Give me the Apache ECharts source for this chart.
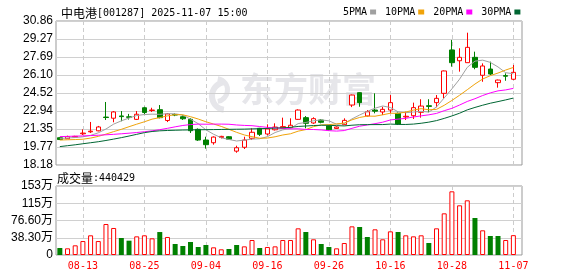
<!DOCTYPE html>
<html><head><meta charset="utf-8">
<script src="https://cdn.jsdelivr.net/npm/echarts@6/dist/echarts.min.js"></script>
<style>html,body{margin:0;padding:0;background:#fff}#c{width:578px;height:276px}</style>
</head><body><div id="c"></div><script>
const dates = ['08-08','08-11','08-12','08-13','08-14','08-15','08-18','08-19','08-20','08-21','08-22',
'08-25','08-26','08-27','08-28','08-29','09-01','09-02','09-03','09-04','09-05','09-08','09-09','09-10',
'09-11','09-12','09-15','09-16','09-17','09-18','09-19','09-22','09-23','09-24','09-25','09-26','09-29',
'09-30','10-09','10-10','10-13','10-14','10-15','10-16','10-17','10-20','10-21','10-22','10-23','10-24',
'10-27','10-28','10-29','10-30','10-31','11-03','11-04','11-05','11-06','11-07'];
const tickLabels = ['08-13','08-25','09-04','09-16','09-26','10-16','10-28','11-07'];
const priceTicks = [18.18, 19.77, 21.35, 22.94, 24.52, 26.10, 27.69, 29.27, 30.86];
const open  = [20.58,20.49,20.64,20.93,21.10,21.19,22.40,22.30,22.50,22.42,22.20,23.22,22.98,23.05,22.10,22.62,22.43,22.20,21.32,20.38,
20.14,20.60,20.67,19.40,19.74,20.53,21.41,20.91,21.28,21.45,21.46,22.20,22.35,21.88,22.14,21.62,21.40,21.73,23.46,24.55,
22.50,23.02,22.85,23.02,22.73,22.41,22.52,22.82,23.40,23.67,24.49,28.31,27.36,27.19,27.66,26.08,26.63,25.43,26.05,25.73];
const close = [20.42,20.68,20.70,20.99,21.16,21.53,22.36,22.85,22.44,22.38,22.65,22.80,23.02,22.35,22.68,22.58,22.25,21.20,20.38,19.97,
20.64,20.70,20.45,19.70,20.38,21.06,20.88,21.35,21.52,21.56,21.68,23.02,21.85,22.26,21.94,21.28,21.52,22.11,24.34,23.67,
22.87,22.92,23.08,23.67,21.79,22.47,23.23,23.37,23.34,24.05,26.46,27.19,27.66,28.54,26.78,26.90,26.19,25.66,26.00,26.34];
const low   = [20.40,20.47,20.58,20.82,21.00,21.15,22.14,21.94,22.03,22.18,22.14,22.67,22.85,22.29,21.96,22.48,22.15,21.00,20.30,19.62,
19.97,20.52,20.40,19.26,19.59,20.38,20.73,20.79,21.22,21.42,21.40,22.15,21.41,21.80,21.85,21.22,21.36,21.70,23.28,23.31,
22.45,22.73,22.58,22.73,21.70,22.14,22.23,22.35,22.82,23.26,24.05,26.84,26.40,27.19,26.61,25.51,26.10,24.99,25.60,25.66];
const high  = [20.62,20.76,20.75,21.32,21.97,21.62,23.73,22.93,22.93,22.68,22.93,23.31,23.22,23.46,22.75,22.73,22.55,22.30,21.40,20.67,
20.70,20.75,20.72,19.88,20.67,21.41,21.45,21.76,21.85,22.35,22.29,23.08,22.49,22.38,22.22,21.66,21.58,22.29,24.38,24.58,
23.02,24.49,23.31,24.34,22.80,22.87,23.67,23.97,23.97,24.34,26.50,29.19,28.46,29.83,28.16,27.13,27.28,25.70,26.25,26.99];
const volume = [155000,148000,215000,310000,437000,310000,688000,600000,377000,318000,414000,437000,370000,510000,400000,244000,200000,289000,178000,222000,
170000,126000,133000,222000,192000,333000,155000,178000,192000,333000,333000,592000,511000,348000,244000,178000,148000,266000,636000,622000,
400000,570000,348000,525000,511000,437000,414000,437000,266000,592000,925000,1414000,1103000,1214000,822000,548000,422000,422000,333000,440429];
// MA values before enough visible history exists
const ma5Early  = [20.52,20.56,20.60,20.66];
const ma10Early = [20.38,20.40,20.42,20.45,20.55,20.70,20.90,21.12,21.32];
const ma20Early = [20.68,20.70,20.72,20.74,20.77,20.80,20.84,20.88,20.93,20.98,21.04,21.11,21.19,21.29,21.41,21.54,21.66,21.74,21.78];
const ma30Early = [19.80,19.88,19.96,20.05,20.14,20.23,20.34,20.46,20.59,20.73,20.88,21.03,21.13,21.19,21.22,21.24,21.26,21.27,21.28,21.29,
21.30,21.31,21.32,21.33,21.34,21.36,21.38,21.40,21.43];
const maNames = ['5PMA','10PMA','20PMA','30PMA'];

function ma(n, early) {
  return close.map((c, i) => {
    if (i < n - 1) return [i, early[i]];
    let s = 0; for (let k = i - n + 1; k <= i; k++) s += close[k];
    return [i, +(s / n).toFixed(3)];
  });
}
const RED = '#ff0000', GREEN = '#008000';
const candleData = close.map((c, i) => [i, open[i], c, low[i], high[i]]);
const volData = volume.map((v, i) => {
  const up = i === 0 ? close[i] >= open[i] : close[i] >= close[i - 1];
  return { value: [i, v], itemStyle: up ? { color: '#fff', borderColor: RED, borderWidth: 1 } : { color: GREEN, borderColor: GREEN, borderWidth: 0 } };
});
const tickIdx = tickLabels.map(l => dates.indexOf(l));
const xMin = -0.5, xMax = 60.12;
const mono = "'DejaVu Sans Mono', monospace";
const cjk = "'Noto Sans CJK SC', sans-serif";

function fmtVol(v) {
  if (v === 0) return '0';
  const w = v / 10000;
  return (w >= 100 ? Math.round(w) : w.toFixed(2)) + '万';
}

const chart = echarts.init(document.getElementById('c'), null, { renderer: 'canvas' });
const lineColors = ['#a0a0a0', '#f0a30a', '#ff00ff', '#006633'];
const maSeries = [ma(5, ma5Early), ma(10, ma10Early), ma(20, ma20Early), ma(30, ma30Early)].map((d, k) => ({
  name: maNames[k], type: 'line', xAxisIndex: 0, yAxisIndex: 0, data: d, symbol: 'none', silent: true,
  lineStyle: { width: 1, color: lineColors[k] }, itemStyle: { color: lineColors[k] }, z: 3
}));

chart.setOption({
  animation: false,
  backgroundColor: '#fff',
  textStyle: { fontFamily: "'Liberation Sans', " + cjk },
  title: {
    text: '{a|中电港}{b|[001287] 2025-11-07 15:00}', left: 56, top: 2,
    textStyle: { fontWeight: 'normal', rich: {
      a: { fontFamily: cjk, fontSize: 12, fontWeight: 'normal', color: '#000' },
      b: { fontFamily: mono, fontSize: 10, fontWeight: 'normal', color: '#000' } } }
  },
  legend: {
    data: maNames, left: 338, top: 2, align: 'right', icon: 'rect', itemWidth: 6, itemHeight: 5, itemGap: 9,
    textStyle: { fontFamily: mono, fontSize: 10, color: '#000', padding: [0, -2, 0, 0] }
  },
  graphic: [
    { type: 'text', left: 57, top: 172, style: { text: '{a|成交量}{b|:' + volume[volume.length - 1] + '}',
      rich: { a: { fontFamily: cjk, fontSize: 12, fontWeight: 'normal', fill: '#000' }, b: { fontFamily: mono, fontSize: 10, fill: '#000' } } } },
    { type: 'text', left: 240, top: 72, z: -1, style: { text: '东方财富', font: "bold 34px 'Noto Sans CJK SC'", fill: '#e6e6ea' } },
    { type: 'sector', z: -1, shape: { cx: 226, cy: 96, r: 17, r0: 11, startAngle: Math.PI * 0.55, endAngle: Math.PI * 1.45 }, style: { fill: '#e6e6ea' } },
    { type: 'sector', z: -1, shape: { cx: 216, cy: 90, r: 14, r0: 9, startAngle: -Math.PI * 0.45, endAngle: Math.PI * 0.45 }, style: { fill: '#e6e6ea' } }
  ],
  grid: [
    { left: 56, top: 21, width: 466, height: 144, show: true, borderColor: '#999', borderWidth: 1, backgroundColor: 'transparent' },
    { left: 56, top: 186, width: 466, height: 69, show: true, borderColor: '#999', borderWidth: 1, backgroundColor: 'transparent' }
  ],
  xAxis: [
    { type: 'value', gridIndex: 0, min: xMin, max: xMax, axisLine: { show: false },
      axisTick: { show: false, customValues: tickIdx }, axisLabel: { show: false, customValues: tickIdx },
      splitLine: { show: true, lineStyle: { color: '#cccccc', type: [4, 3] } } },
    { type: 'value', gridIndex: 1, min: xMin, max: xMax, axisLine: { show: false },
      axisTick: { show: false, customValues: tickIdx },
      axisLabel: { show: true, customValues: tickIdx, formatter: v => dates[Math.round(v)] || '', color: RED, fontFamily: mono, fontSize: 10, margin: 6 },
      splitLine: { show: true, lineStyle: { color: '#cccccc', type: [4, 3] } } }
  ],
  yAxis: [
    { type: 'value', gridIndex: 0, min: 18.18, max: 30.86, axisLine: { show: false },
      axisTick: { show: false, customValues: priceTicks },
      axisLabel: { customValues: priceTicks, formatter: v => v.toFixed(2), color: '#000', fontFamily: 'Liberation Sans', fontSize: 12, margin: 3 },
      splitLine: { show: true, lineStyle: { color: '#d0d0d0' } } },
    { type: 'value', gridIndex: 1, min: 0, max: 1532000, interval: 383000, axisLine: { show: false }, axisTick: { show: false },
      axisLabel: { formatter: fmtVol, color: '#000', fontFamily: "'Liberation Sans', 'Noto Sans CJK SC'", fontSize: 12, margin: 3 },
      splitLine: { show: true, lineStyle: { color: '#d0d0d0' } } }
  ],
  series: [
    { name: 'K', type: 'candlestick', xAxisIndex: 0, yAxisIndex: 0, data: candleData, encode: { x: 0, y: [1, 2, 3, 4] },
      barWidth: 5, silent: true, z: 2,
      itemStyle: { color: '#fff', color0: GREEN, borderColor: RED, borderColor0: GREEN, borderWidth: 1 } },
    ...maSeries,
    { name: 'VOL', type: 'bar', xAxisIndex: 1, yAxisIndex: 1, data: volData, barWidth: 5, silent: true }
  ]
});
</script></body></html>
